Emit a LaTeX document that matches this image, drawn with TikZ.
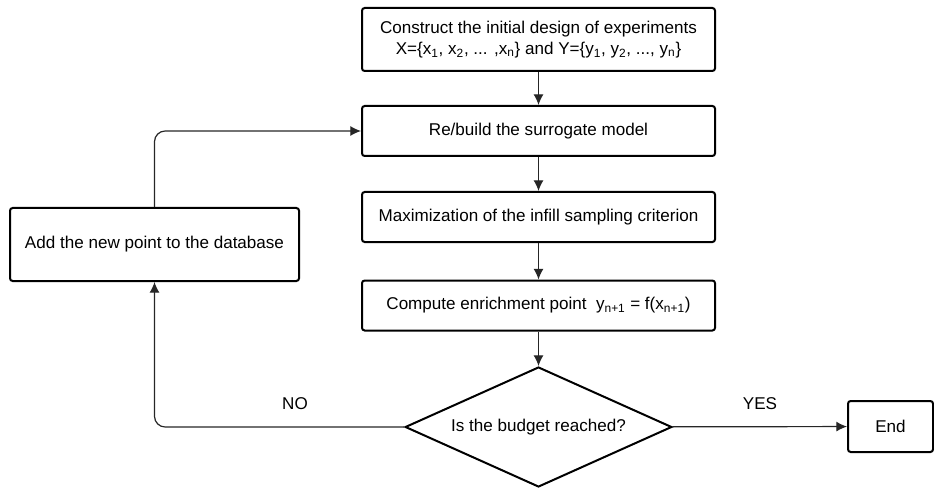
\documentclass[tikz,border=0pt]{standalone}
\usepackage{fontspec}
\setmainfont{Liberation Sans}
\usepackage{tikz}
\tikzset{>=latex}
\usetikzlibrary{arrows.meta}
\usetikzlibrary{shapes.geometric}
\tikzset{
    stepbox/.style = {draw, line width=1.5pt, rounded corners=2pt, align=center,
        minimum width=264.75pt, minimum height=37.5pt, inner sep=2pt},
    decision/.style = {draw, diamond, line width=1.5pt, aspect=2.2,
        minimum width=200pt, minimum height=90pt, inner sep=0pt},
    flow/.style = {-{Latex[length=8pt, width=7.5pt]}, line width=0.9pt, draw=black!85}
}

\begin{document}
\begin{tikzpicture}[x=0.75pt, y=-0.75pt, font=\fontsize{12.8}{16}\selectfont]
            \useasboundingbox (0, 0) rectangle (934, 488);
            \node[stepbox, minimum height=47.25pt] (init) at (538.5, 39.5)
                {Construct the initial design of experiments\\
                 X=\{x\textsubscript{1}, x\textsubscript{2}, ... ,x\textsubscript{n}\} and Y=\{y\textsubscript{1}, y\textsubscript{2}, ..., y\textsubscript{n}\}};
            \node[stepbox] (rebuild) at (538.5, 131) {Re/build the surrogate model};
            \node[stepbox] (maxim) at (538.5, 217) {Maximization of the infill sampling criterion};
            \node[stepbox] (enrich) at (538.5, 305.5)
                {Compute enrichment point\ \ y\textsubscript{n+1} = f(x\textsubscript{n+1})};
            \node[decision] (budget) at (538.5, 427) {Is the budget reached?};
            \node[stepbox, minimum width=216.75pt, minimum height=54.75pt] (add) at (154.5, 244.5)
                {Add the new point to the database};
            \node[stepbox, minimum width=63.75pt, minimum height=38.25pt] (end) at (890.5, 426.5) {End};
            \node (no) at (295, 404) {NO};
            \node (yes) at (760, 404) {YES};
            \draw[flow] (init) -- (rebuild);
            \draw[flow] (rebuild) -- (maxim);
            \draw[flow] (maxim) -- (enrich);
            \draw[flow] (enrich) -- (budget);
            \draw[flow] (budget) -- (end);
            \draw[flow, rounded corners=8pt] (budget.west) -| (add.south);
            \draw[flow, rounded corners=8pt] (add.north) |- (rebuild.west);
        \end{tikzpicture}
\end{document}
